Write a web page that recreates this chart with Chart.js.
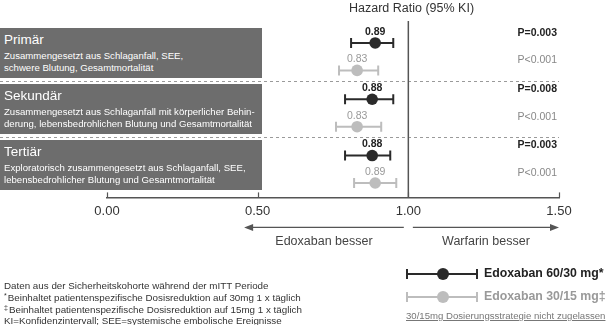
<!DOCTYPE html>
<html><head><meta charset="utf-8">
<script src="https://cdn.jsdelivr.net/npm/chart.js@4/dist/chart.umd.min.js"></script>
<style>
html,body{margin:0;padding:0;background:#fff;}
body{width:609px;height:325px;position:relative;overflow:hidden;font-family:"Liberation Sans",Arial,Helvetica,sans-serif;}
#wrap{position:absolute;left:0;top:0;width:609px;height:325px;}
.box{position:absolute;left:0;width:262px;height:50px;background:#6d6d6d;color:#fff;overflow:hidden;}
.box .t{position:absolute;left:4px;top:4px;font-size:13.5px;line-height:15px;white-space:nowrap;}
.box .s{position:absolute;left:4px;top:22px;font-size:9.6px;line-height:11.5px;white-space:nowrap;}
.abs{position:absolute;white-space:nowrap;}
.foot{position:absolute;left:4px;font-size:9.8px;color:#333;white-space:nowrap;line-height:12px;height:12px;}
.mk{font-size:7px;position:relative;top:-3px;margin-right:1px;}
</style></head>
<body>
<div id="wrap"><canvas id="c" width="609" height="325"></canvas></div>
<div id="boxes"></div>
<div class="abs" style="left:349px;top:1px;font-size:12.5px;color:#333;">Hazard Ratio (95% KI)</div>

<div class="foot" style="top:280px;">Daten aus der Sicherheitskohorte während der mITT Periode</div>
<div class="foot" style="top:292px;"><span class="mk">*</span>Beinhaltet patientenspezifische Dosisreduktion auf 30mg 1 x täglich</div>
<div class="foot" style="top:304px;"><span class="mk">‡</span>Beinhaltet patientenspezifische Dosisreduktion auf 15mg 1 x täglich</div>
<div class="foot" style="top:315px;">KI=Konfidenzintervall; SEE=systemische embolische Ereignisse</div>

<div id="legend"></div>
<div class="abs" style="left:406px;top:310px;font-size:9.6px;color:#777;text-decoration:underline;">30/15mg Dosierungsstrategie nicht zugelassen</div>

<script>
// ---- data ----
const groups = ["Primär", "Sekundär", "Tertiär"];
const groupDesc = [
  ["Zusammengesetzt aus Schlaganfall, SEE,", "schwere Blutung, Gesamtmortalität"],
  ["Zusammengesetzt aus Schlaganfall mit körperlicher Behin-", "derung, lebensbedrohlichen Blutung und Gesamtmortalität"],
  ["Exploratorisch zusammengesetzt aus Schlaganfall, SEE,", "lebensbedrohlicher Blutung und Gesamtmortalität"]
];
const seriesNames = ["Edoxaban 60/30 mg*", "Edoxaban 30/15 mg‡"];
const hr60 = [0.89, 0.88, 0.88];
const lo60 = [0.81, 0.79, 0.79];
const hi60 = [0.95, 0.95, 0.94];
const p60 = ["P=0.003", "P=0.008", "P=0.003"];
const hr30 = [0.83, 0.83, 0.89];
const lo30 = [0.77, 0.76, 0.82];
const hi30 = [0.90, 0.91, 0.96];
const p30 = ["P<0.001", "P<0.001", "P<0.001"];
const xTicks = [0, 0.5, 1.0, 1.5];
const directionLabels = ["Edoxaban besser", "Warfarin besser"];

// ---- styles ----
const DARK = "#2a2a2a", LIGHT = "#bdbdbd";
const FONT = '"Liberation Sans", Arial, Helvetica, sans-serif';
const OFF30 = 0.487;   // vertical offset of second series within a group
const SEP = 0.19;      // separator offset below second series

// boxes
const boxTops = [28, 84, 140];
const bx = document.getElementById("boxes");
groups.forEach((g, i) => {
  const d = document.createElement("div");
  d.className = "box"; d.style.top = boxTops[i] + "px";
  d.innerHTML = '<div class="t">' + g + '</div><div class="s">' + groupDesc[i].join("<br>") + '</div>';
  bx.appendChild(d);
});

// legend
const lg = document.getElementById("legend");
[[DARK, 274, "#222"], [LIGHT, 297, "#999"]].forEach((s, i) => {
  const [col, y, tc] = s;
  lg.insertAdjacentHTML("beforeend",
    '<div class="abs" style="left:406px;top:' + (y - 1) + 'px;width:72px;height:2px;background:' + col + '"></div>' +
    '<div class="abs" style="left:406px;top:' + (y - 5) + 'px;width:2px;height:10px;background:' + col + '"></div>' +
    '<div class="abs" style="left:476px;top:' + (y - 5) + 'px;width:2px;height:10px;background:' + col + '"></div>' +
    '<div class="abs" style="left:437px;top:' + (y - 6) + 'px;width:12px;height:12px;border-radius:6px;background:' + col + '"></div>' +
    '<div class="abs" style="left:484px;top:' + (y - 8) + 'px;font-size:12.3px;line-height:15px;font-weight:bold;color:' + tc + '">' + seriesNames[i] + '</div>');
});

const pts60 = hr60.map((v, i) => ({x: v, y: i}));
const pts30 = hr30.map((v, i) => ({x: v, y: i + OFF30}));

const forestPlugin = {
  id: "forest",
  afterDatasetsDraw(chart) {
    const ctx = chart.ctx, xs = chart.scales.x, ys = chart.scales.y, ca = chart.chartArea;
    ctx.save();
    // separators
    ctx.strokeStyle = "#9a9a9a"; ctx.lineWidth = 1; ctx.setLineDash([3, 3]);
    for (let i = 0; i < groups.length - 1; i++) {
      const y = Math.round(ys.getPixelForValue(i + OFF30 + SEP)) + 0.5;
      ctx.beginPath(); ctx.moveTo(0, y); ctx.lineTo(xs.getPixelForValue(1.5), y); ctx.stroke();
    }
    ctx.setLineDash([]);
    // reference line at 1
    const x1 = xs.getPixelForValue(1);
    ctx.strokeStyle = "#555"; ctx.lineWidth = 1.5;
    ctx.beginPath(); ctx.moveTo(x1, ca.top); ctx.lineTo(x1, ca.bottom); ctx.stroke();
    // axis ticks (upwards)
    ctx.lineWidth = 1.2;
    xTicks.forEach(t => {
      const x = Math.round(xs.getPixelForValue(t)) + 0.5;
      ctx.beginPath(); ctx.moveTo(x, ca.bottom); ctx.lineTo(x, ca.bottom - 5); ctx.stroke();
    });
    // error bars
    const series = [[hr60, lo60, hi60, 0, DARK], [hr30, lo30, hi30, OFF30, LIGHT]];
    series.forEach(([hr, lo, hi, off, col]) => {
      ctx.strokeStyle = col; ctx.lineWidth = 2;
      hr.forEach((v, i) => {
        const y = ys.getPixelForValue(i + off);
        const a = xs.getPixelForValue(lo[i]), b = xs.getPixelForValue(hi[i]);
        ctx.beginPath(); ctx.moveTo(a, y); ctx.lineTo(b, y); ctx.stroke();
        ctx.beginPath(); ctx.moveTo(a, y - 5); ctx.lineTo(a, y + 5); ctx.moveTo(b, y - 5); ctx.lineTo(b, y + 5); ctx.stroke();
      });
    });
    ctx.restore();
  },
  afterDraw(chart) {
    const ctx = chart.ctx, xs = chart.scales.x, ys = chart.scales.y, ca = chart.chartArea;
    ctx.save();
    // points on top of bars
    const series = [[hr60, 0, DARK], [hr30, OFF30, LIGHT]];
    series.forEach(([hr, off, col]) => {
      ctx.fillStyle = col;
      hr.forEach((v, i) => {
        ctx.beginPath(); ctx.arc(xs.getPixelForValue(v), ys.getPixelForValue(i + off), 5.8, 0, Math.PI * 2); ctx.fill();
      });
    });
    // value labels
    ctx.textAlign = "center"; ctx.textBaseline = "middle";
    hr60.forEach((v, i) => {
      ctx.font = "bold 10.5px " + FONT; ctx.fillStyle = "#222";
      ctx.fillText(v.toFixed(2), xs.getPixelForValue(v), ys.getPixelForValue(i) - 11);
    });
    hr30.forEach((v, i) => {
      ctx.font = "10.5px " + FONT; ctx.fillStyle = "#999";
      ctx.fillText(v.toFixed(2), xs.getPixelForValue(v), ys.getPixelForValue(i + OFF30) - 11);
    });
    // p-values
    ctx.textAlign = "right";
    const xr = xs.getPixelForValue(1.5) - 2;
    p60.forEach((p, i) => {
      ctx.font = "bold 10.5px " + FONT; ctx.fillStyle = "#222";
      ctx.fillText(p, xr, ys.getPixelForValue(i) - 10);
    });
    p30.forEach((p, i) => {
      ctx.font = "10.5px " + FONT; ctx.fillStyle = "#888";
      ctx.fillText(p, xr, ys.getPixelForValue(i + OFF30) - 10);
    });
    // direction arrows
    const ay = ca.bottom + 30;
    ctx.lineWidth = 1.3;
    const arrows = [[0.985, 0.455], [1.015, 1.5]];
    arrows.forEach(([f, t], k) => {
      const a = xs.getPixelForValue(f), b = xs.getPixelForValue(t);
      const dir = b > a ? 1 : -1;
      ctx.strokeStyle = "#555"; ctx.fillStyle = "#555";
      ctx.beginPath(); ctx.moveTo(a, ay); ctx.lineTo(b - dir * 6, ay); ctx.stroke();
      ctx.beginPath(); ctx.moveTo(b, ay); ctx.lineTo(b - dir * 9, ay - 3.5); ctx.lineTo(b - dir * 9, ay + 3.5); ctx.closePath(); ctx.fill();
      ctx.font = "12.5px " + FONT; ctx.fillStyle = "#444"; ctx.textAlign = "center";
      ctx.fillText(directionLabels[k], (a + b) / 2, ay + 14);
    });
    ctx.restore();
  }
};

new Chart(document.getElementById("c"), {
  type: "scatter",
  data: {
    datasets: [
      {label: seriesNames[0], data: pts60, pointRadius: 0, backgroundColor: DARK},
      {label: seriesNames[1], data: pts30, pointRadius: 0, backgroundColor: LIGHT}
    ]
  },
  options: {
    responsive: false, animation: false, devicePixelRatio: 1,
    layout: {padding: {left: 107, right: 50, top: 21, bottom: 100}},
    plugins: {legend: {display: false}, tooltip: {enabled: false}},
    scales: {
      x: {
        type: "linear", min: 0, max: 1.5,
        afterBuildTicks: s => { s.ticks = xTicks.map(v => ({value: v})); },
        ticks: {callback: v => Number(v).toFixed(2), color: "#333", font: {size: 13, family: FONT}, padding: 6, maxRotation: 0},
        grid: {drawOnChartArea: false, drawTicks: false},
        border: {display: true, color: "#555", width: 1.5}
      },
      y: {type: "linear", min: -0.39, max: 2.743, reverse: true, display: false}
    }
  },
  plugins: [forestPlugin]
});
</script>
</body></html>
